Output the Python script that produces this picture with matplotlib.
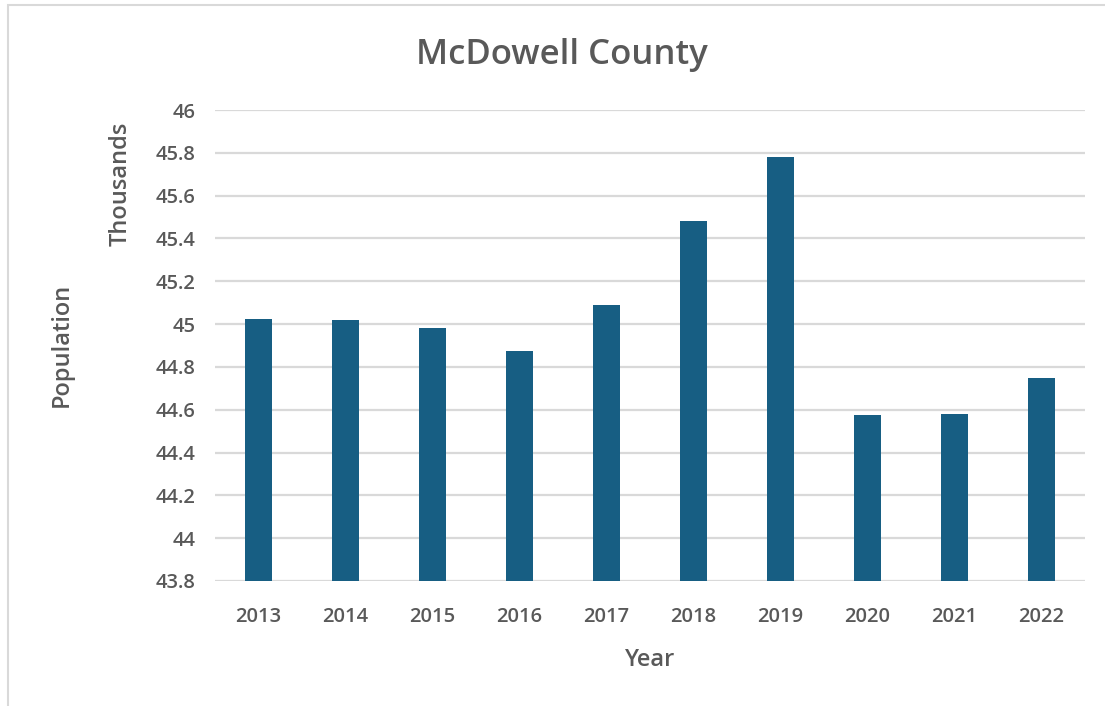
import matplotlib
matplotlib.use("Agg")
import matplotlib.pyplot as plt
from matplotlib.patches import Rectangle

years = ["2013", "2014", "2015", "2016", "2017", "2018", "2019", "2020", "2021", "2022"]
population_thousands = [45.022, 45.017, 44.981, 44.872, 45.089, 45.48, 45.78, 44.575, 44.581, 44.75]
y_ticks = [43.8, 44, 44.2, 44.4, 44.6, 44.8, 45, 45.2, 45.4, 45.6, 45.8, 46]
y_tick_labels = ["43.8", "44", "44.2", "44.4", "44.6", "44.8", "45", "45.2", "45.4", "45.6", "45.8", "46"]

TEXT = "#595959"
GRID = "#d9d9d9"
BAR = "#175e83"

plt.rcParams["font.family"] = ["Open Sans", "DejaVu Sans"]

fig = plt.figure(figsize=(11.05, 7.06), dpi=100)
border = Rectangle((8 / 1105, -0.1), 1.2, 1 - 5 / 706 + 0.1, transform=fig.transFigure,
                   facecolor="white", edgecolor=GRID, linewidth=1.5, zorder=-1)
fig.patches.append(border)

ax = fig.add_axes([215 / 1105, 1 - 581 / 706, 870 / 1105, 471 / 706])
ax.set_facecolor("none")

x = range(len(years))
ax.bar(x, [v - 43.8 for v in population_thousands], bottom=43.8, width=0.32, color=BAR, zorder=3)

ax.set_xlim(-0.5, len(years) - 0.5)
ax.set_ylim(43.8, 46)
ax.set_yticks(y_ticks)
ax.set_yticklabels(y_tick_labels)
ax.set_xticks(list(x))
ax.set_xticklabels(years)

for spine in ax.spines.values():
    spine.set_visible(False)
ax.grid(axis="y", color=GRID, linewidth=1.6, zorder=0)
ax.tick_params(axis="both", length=0, labelsize=14.5, labelcolor=TEXT)
ax.tick_params(axis="x", pad=19)
ax.tick_params(axis="y", pad=14)
for lbl in ax.get_xticklabels() + ax.get_yticklabels():
    lbl.set_fontweight("semibold")

ax.set_xlabel("Year", fontsize=17, color=TEXT, labelpad=15, fontweight="semibold")
fig.text(62 / 1105, 1 - 345 / 706, "Population", rotation=90, fontsize=17, color=TEXT,
         ha="center", va="center", fontweight="semibold")
fig.text(121 / 1105, 1 - 184 / 706, "Thousands", rotation=90, fontsize=17, color=TEXT,
         ha="center", va="center", fontweight="semibold")
fig.text(562 / 1105, 1 - 55 / 706, "McDowell County", fontsize=25, color=TEXT,
         ha="center", va="center", fontweight="semibold")

fig.savefig("out.png", dpi=100)
